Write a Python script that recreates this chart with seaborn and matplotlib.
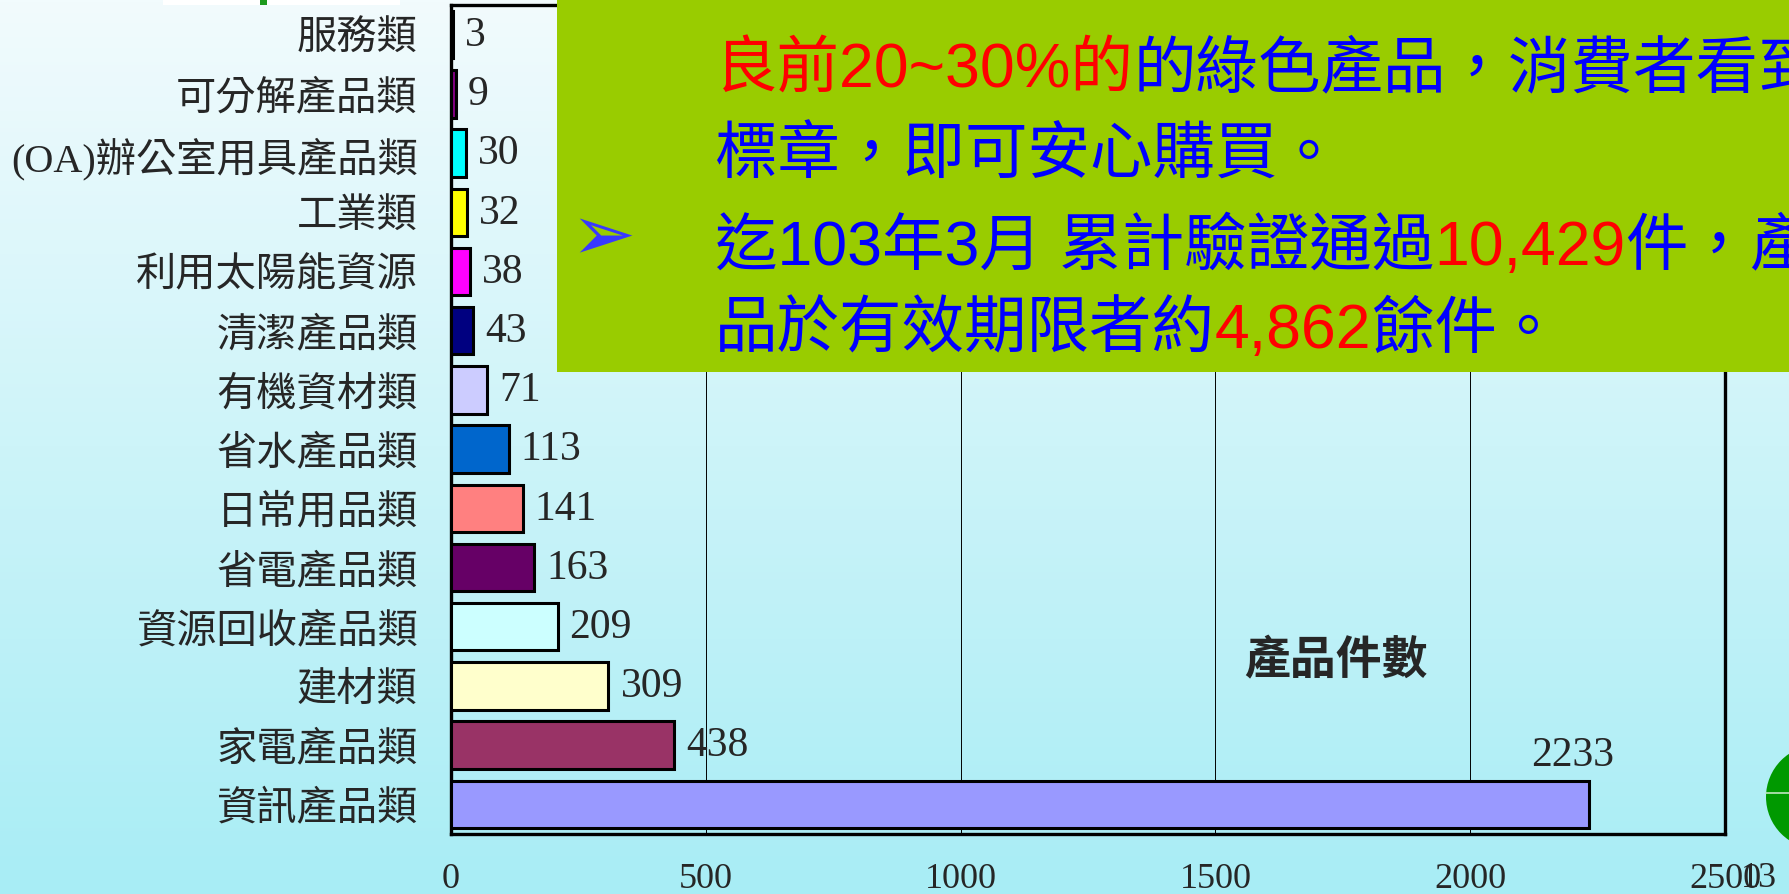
import numpy as np
import pandas as pd
import matplotlib.pyplot as plt
from matplotlib.patches import Rectangle, Circle
from matplotlib.ticker import FixedLocator
import seaborn as sns

# data, top to bottom as on the slide
categories = ['服務類', '可分解產品類', '(OA)辦公室用具產品類', '工業類', '利用太陽能資源',
              '清潔產品類', '有機資材類', '省水產品類', '日常用品類', '省電產品類',
              '資源回收產品類', '建材類', '家電產品類', '資訊產品類']
counts = [3, 9, 30, 32, 38, 43, 71, 113, 141, 163, 209, 309, 438, 2233]
bar_colors = ['#800000', '#800080', '#00FFFF', '#FFFF00', '#FF00FF', '#000080', '#CCCCFF',
              '#0066CC', '#FF8080', '#660066', '#CCFFFF', '#FFFFCC', '#993366', '#9999FF']
x_ticks = [0, 500, 1000, 1500, 2000, 2500]
axis_title = '產品件數'
page_no = '13'

df = pd.DataFrame({'cat': categories, 'n': counts})

sns.set_style('white')
plt.rcParams['font.family'] = ['Liberation Serif', 'Noto Sans CJK TC']

W, H = 1789, 895
fig = plt.figure(figsize=(W / 100, H / 100), dpi=100)

# slide background gradient
bg = fig.add_axes([0, 0, 1, 1], zorder=0)
top = np.array([242, 251, 253]) / 255
bot = np.array([168, 237, 245]) / 255
t = np.linspace(0, 1, 256)[:, None]
grad = (top[None, :] * (1 - t) + bot[None, :] * t)[:, None, :]
bg.imshow(grad, aspect='auto', extent=[0, 1, 0, 1])
bg.axis('off')

ax = fig.add_axes([451 / W, 1 - 835 / H, (1725 - 451) / W, (835 - 6) / H], zorder=1)
ax.patch.set_alpha(0)
sns.barplot(data=df, x='n', y='cat', hue='cat', palette=bar_colors, legend=False,
            orient='h', width=0.8, saturation=1, edgecolor='black', linewidth=2.2,
            ax=ax, zorder=3)
ax.set_xlim(0, 2500)
ax.set_ylim(13.5, -0.5)
ax.set_xticks(x_ticks)
ax.set_xticklabels([str(v) for v in x_ticks])
ax.xaxis.grid(True, color='black', linewidth=0.7, zorder=0)
ax.set_xlabel('')
ax.set_ylabel('')
for s in ax.spines.values():
    s.set_visible(True)
    s.set_linewidth(2.4)
    s.set_color('black')
ax.tick_params(axis='x', length=0, pad=20, labelsize=26)
ax.tick_params(axis='y', which='major', length=0, pad=24, labelsize=29)
ax.yaxis.set_minor_locator(FixedLocator(np.arange(0.5, 13, 1)))
ax.tick_params(axis='y', which='minor', direction='in', length=6, width=1, color='black')

for i, v in enumerate(counts):
    if v > 2000:
        ax.annotate(str(v), (v, i), xytext=(-16, 30), textcoords='offset pixels',
                    ha='center', va='bottom', fontsize=30)
    else:
        ax.annotate(str(v), (v, i), xytext=(12, 0), textcoords='offset pixels',
                    ha='left', va='center', fontsize=30)

ax.text(0.695, 0.209, axis_title, transform=ax.transAxes, ha='center', va='center',
        fontsize=33, fontweight='bold', family=['Noto Sans CJK TC'])

# overlay in pixel coordinates for the slide decorations
ov = fig.add_axes([0, 0, 1, 1], zorder=5)
ov.set_xlim(0, W)
ov.set_ylim(H, 0)
ov.axis('off')
ov.patch.set_alpha(0)

ov.add_patch(Rectangle((163, 0), 237, 6, facecolor='white', edgecolor='none'))
ov.add_patch(Rectangle((260, 0), 7, 6, facecolor='#1E9A1E', edgecolor='none'))

ov.add_patch(Rectangle((557, -5), W - 557 + 5, 378, facecolor='#99CC00', edgecolor='none'))

ov.add_patch(Circle((1818, 798), 52, facecolor='#009900', edgecolor='none'))
ov.plot([1766, 1789], [794, 794], color='#BFE6BF', linewidth=1.2)

blue, red = '#0000FF', '#FF0000'
box_font = ['Liberation Sans', 'Noto Sans CJK TC']


def colored_line(x, y, parts, size=45):
    txt = ov.text(x, y, parts[0][0], color=parts[0][1], fontsize=size,
                  family=box_font, ha='left', va='center')
    for s, c in parts[1:]:
        txt = ov.annotate(s, xycoords=txt, xy=(1, 0), va='bottom', ha='left',
                          color=c, fontsize=size, family=box_font)
    return txt


colored_line(715, 71, [('良前20~30%的', red), ('的綠色產品，消費者看到', blue)])
colored_line(715, 157, [('標章，即可安心購買。', blue)])
ov.text(603, 238, '➢', color='#3838FF', fontsize=56, family=['DejaVu Sans'],
        ha='center', va='center')
colored_line(715, 248, [('迄103年3月 累計驗證通過', blue), ('10,429', red), ('件，產', blue)])
colored_line(715, 331, [('品於有效期限者約', blue), ('4,862', red), ('餘件。', blue)])

ov.text(1759, 879, page_no, fontsize=26, ha='center', va='center')

fig.savefig('out.png', dpi=100)
